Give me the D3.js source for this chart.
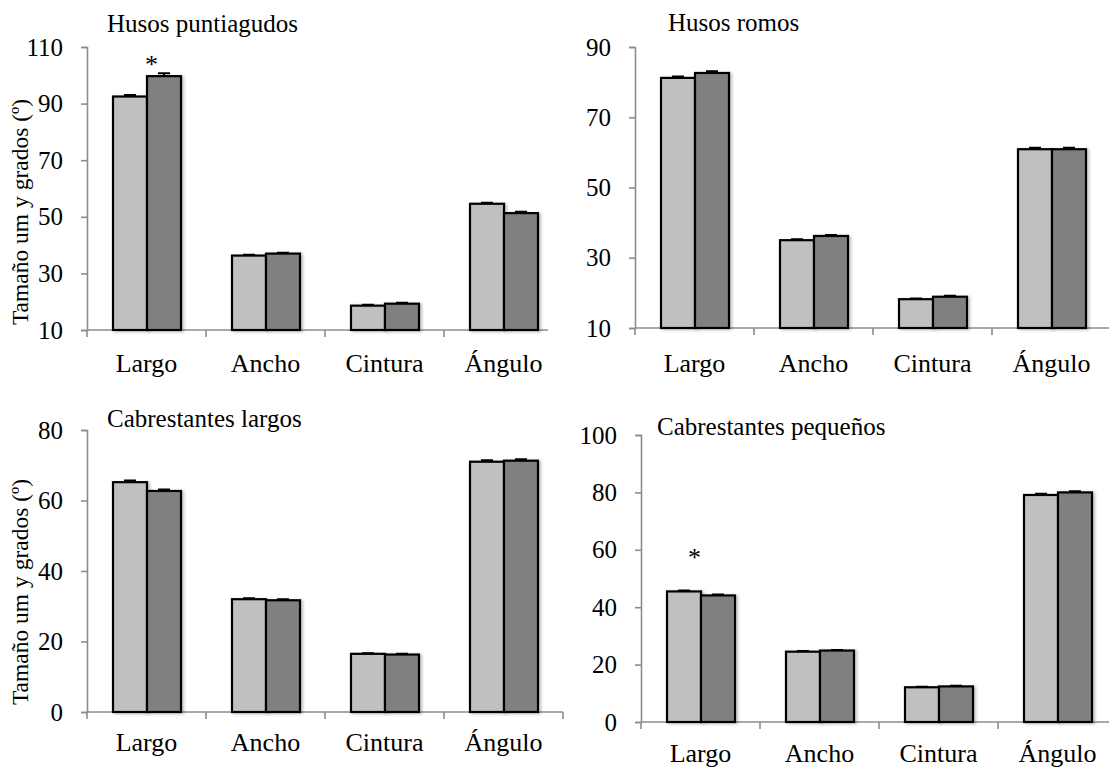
<!DOCTYPE html>
<html><head><meta charset="utf-8">
<script src="https://cdn.jsdelivr.net/npm/d3@7"></script>
<style>
html,body{margin:0;padding:0;background:#fff;}
svg text{font-family:"Liberation Serif","Times New Roman",serif;fill:#000;}
</style></head>
<body><svg id="c" width="1109" height="767"></svg>
<script>
const categories = ["Largo","Ancho","Cintura","Ángulo"];
const titles = ["Husos puntiagudos","Husos romos","Cabrestantes largos","Cabrestantes pequeños"];
const yTitle = "Tamaño um y grados (º)";

const puntLight = [92.5, 36.3, 18.6, 54.6];
const puntDark  = [99.7, 37.0, 19.3, 51.3];
const puntLightErr = [0.5, 0.3, 0.3, 0.4];
const puntDarkErr  = [1.0, 0.3, 0.3, 0.5];

const romLight = [81.2, 35.0, 18.2, 60.9];
const romDark  = [82.6, 36.2, 18.9, 60.9];
const romLightErr = [0.4, 0.3, 0.2, 0.4];
const romDarkErr  = [0.5, 0.3, 0.3, 0.4];

const larLight = [65.2, 32.0, 16.5, 71.0];
const larDark  = [62.7, 31.7, 16.3, 71.3];
const larLightErr = [0.5, 0.3, 0.2, 0.4];
const larDarkErr  = [0.4, 0.3, 0.2, 0.4];

const peqLight = [45.5, 24.5, 12.1, 79.1];
const peqDark  = [44.1, 24.9, 12.4, 80.0];
const peqLightErr = [0.3, 0.2, 0.2, 0.4];
const peqDarkErr  = [0.3, 0.2, 0.2, 0.4];

const ticks1 = [10,30,50,70,90,110];
const ticks2 = [10,30,50,70,90];
const ticks3 = [0,20,40,60,80];
const ticks4 = [0,20,40,60,80,100];

const starCats = ["Largo", null, null, "Largo"];

const panels = [
  {title:titles[0], light:puntLight, dark:puntDark, le:puntLightErr, de:puntDarkErr, ticks:ticks1,
   x0:87, top:47, bot:330, axisEnd:548, tx:107, ty:32, catY:372, yTitle:true, yTitleC:212, star:starCats[0], starDx:5, starY:73},
  {title:titles[1], light:romLight, dark:romDark, le:romLightErr, de:romDarkErr, ticks:ticks2,
   x0:635, top:47, bot:328, axisEnd:1109, tx:668, ty:31, catY:372, yTitle:false},
  {title:titles[2], light:larLight, dark:larDark, le:larLightErr, de:larDarkErr, ticks:ticks3,
   x0:87, top:430, bot:712, axisEnd:563, tx:107, ty:427, catY:751, yTitle:true, yTitleC:592},
  {title:titles[3], light:peqLight, dark:peqDark, le:peqLightErr, de:peqDarkErr, ticks:ticks4,
   x0:641, top:435, bot:722, axisEnd:1109, tx:657, ty:435, catY:762, yTitle:false, star:starCats[3], starDx:-6, starY:566}
];

const svg = d3.select("#c");
const defs = svg.append("defs");
const f = defs.append("filter").attr("id","sh").attr("x","-20%").attr("y","-20%").attr("width","140%").attr("height","140%");
f.append("feDropShadow").attr("dx",2).attr("dy",1).attr("stdDeviation",1.5).attr("flood-color","#000").attr("flood-opacity",0.25);

const axisColor = "#8c8c8c";
const band = 119;

panels.forEach(p => {
  const g = svg.append("g");
  const x = d3.scaleBand().domain(categories).range([p.x0, p.x0 + band*categories.length]).paddingInner(0).paddingOuter(0);
  const sub = d3.scaleBand().domain(["light","dark"]).range([26, 94]).padding(0);
  const y = d3.scaleLinear().domain([p.ticks[0], p.ticks[p.ticks.length-1]]).range([p.bot, p.top]);

  // y axis
  const ya = g.append("g").attr("transform",`translate(${p.x0},0)`)
    .call(d3.axisLeft(y).tickValues(p.ticks).tickSize(6).tickPadding(18).tickFormat(d3.format("d")));
  ya.select(".domain").attr("stroke",axisColor).attr("stroke-width",1.6);
  ya.selectAll(".tick line").attr("stroke",axisColor).attr("stroke-width",1.6);
  ya.selectAll(".tick text").attr("font-size",25).attr("font-family","Liberation Serif").attr("fill","#000");

  // x axis line
  g.append("line").attr("x1",p.x0).attr("x2",p.axisEnd).attr("y1",p.bot).attr("y2",p.bot)
    .attr("stroke",axisColor).attr("stroke-width",1.6);
  const bounds = d3.range(categories.length+1).map(i => p.x0 + i*band).filter(v => v <= p.axisEnd);
  g.selectAll(".ct").data(bounds).join("line")
    .attr("x1",d=>d).attr("x2",d=>d).attr("y1",p.bot).attr("y2",p.bot+7)
    .attr("stroke",axisColor).attr("stroke-width",1.6);

  // bars
  const rows = categories.map((c,i)=>[
    {c, k:"light", v:p.light[i], e:p.le[i]},
    {c, k:"dark", v:p.dark[i], e:p.de[i]}
  ]).flat();
  const bw = sub.bandwidth();
  g.selectAll(".eb").data(rows).join("path")
    .attr("d", d => {
      const cx = x(d.c) + sub(d.k) + bw/2;
      const y1 = y(d.v), y2 = y(d.v + d.e);
      return `M${cx},${y1}V${y2}M${cx-6},${y2}H${cx+6}`;
    })
    .attr("stroke","#000").attr("stroke-width",2).attr("fill","none");
  g.selectAll(".bar").data(rows).join("rect")
    .attr("x", d => x(d.c) + sub(d.k))
    .attr("y", d => y(d.v))
    .attr("width", bw)
    .attr("height", d => y.range()[0] - y(d.v))
    .attr("fill", d => d.k === "light" ? "#c0c0c0" : "#808080")
    .attr("stroke","#000").attr("stroke-width",2.2)
    .attr("filter","url(#sh)");

  // category labels
  g.selectAll(".cl").data(categories).join("text")
    .attr("x", d => x(d) + band/2).attr("y", p.catY)
    .attr("text-anchor","middle").attr("font-size",26).text(d=>d);

  // title
  g.append("text").attr("x",p.tx).attr("y",p.ty).attr("font-size",25).text(p.title);

  // y title
  if (p.yTitle) {
    g.append("text").attr("transform",`translate(28,${p.yTitleC}) rotate(-90)`)
      .attr("text-anchor","middle").attr("font-size",23.5).text(yTitle);
  }
  // asterisk
  if (p.star) {
    g.append("text").attr("x", x(p.star) + band/2 + p.starDx).attr("y", p.starY)
      .attr("text-anchor","middle").attr("font-size",26).text("*");
  }
});
</script></body></html>
